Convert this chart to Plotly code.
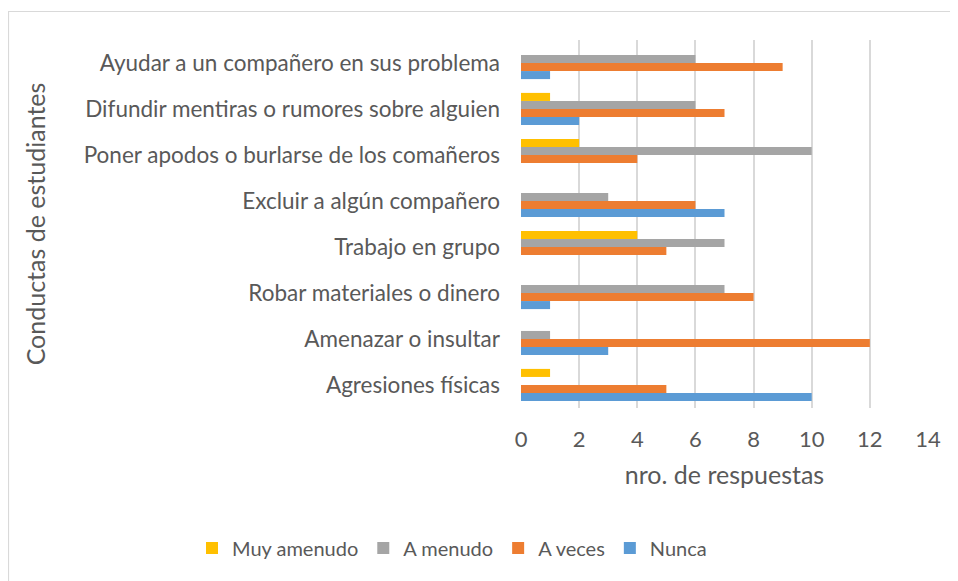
import plotly.graph_objects as go

categories = [
    "Agresiones físicas",
    "Amenazar o insultar",
    "Robar materiales o dinero",
    "Trabajo en grupo",
    "Excluir a algún compañero",
    "Poner apodos o burlarse de los comañeros",
    "Difundir mentiras o rumores sobre alguien",
    "Ayudar a un compañero en sus problema",
]
nunca = [10, 3, 1, 0, 7, 0, 2, 1]
a_veces = [5, 12, 8, 5, 6, 4, 7, 9]
a_menudo = [0, 1, 7, 7, 3, 10, 6, 6]
muy_amenudo = [1, 0, 0, 4, 0, 2, 1, 0]
x_ticks = [0, 2, 4, 6, 8, 10, 12, 14]

series = [
    ("Nunca", nunca, "#5B9BD5"),
    ("A veces", a_veces, "#ED7D31"),
    ("A menudo", a_menudo, "#A5A5A5"),
    ("Muy amenudo", muy_amenudo, "#FFC000"),
]

fig = go.Figure()
for name, vals, color in series:
    fig.add_trace(go.Bar(y=categories, x=vals, name=name, orientation="h",
                         marker=dict(color=color, line=dict(width=0))))

# page is offset by the 8px body margin
OFF = 8
W, H = 958 - OFF, 581 - OFF
L, T = 521 - OFF, 40 - OFF
PR, PB = 928 - OFF, 408 - OFF
R, B = W - PR, H - PB
pw, ph = PR - L, PB - T


def px(x):
    return (x - OFF - L) / pw


def py(y):
    return (PB - (y - OFF)) / ph


font = "Lato, Calibri, Carlito, sans-serif"
fig.update_layout(
    width=W, height=H,
    margin=dict(l=L, r=R, t=T, b=B),
    paper_bgcolor="white", plot_bgcolor="white",
    barmode="group", bargap=0.3, bargroupgap=0,
    font=dict(family=font, size=20, color="#595959"),
    showlegend=True,
    legend=dict(orientation="h", traceorder="reversed",
                x=px(192), xanchor="left",
                y=py(548), yanchor="middle",
                font=dict(size=20, color="#595959"), itemwidth=30),
    xaxis=dict(range=[0, 14], tickvals=x_ticks, showgrid=True, gridcolor="#D9D9D9",
               gridwidth=1.5, zeroline=False, showline=False, ticks="",
               ticklabelstandoff=16,
               title=dict(text="nro. de respuestas", standoff=15,
                          font=dict(size=25, color="#595959")),
               tickfont=dict(size=22, color="#595959")),
    yaxis=dict(categoryorder="array", categoryarray=categories, showgrid=False,
               zeroline=False, showline=False, ticks="", ticklabelstandoff=20,
               tickfont=dict(size=22.5, color="#595959"),
               title=dict(text="Conductas de estudiantes", standoff=30,
                          font=dict(size=25, color="#595959"))),
    shapes=[dict(type="rect", xref="paper", yref="paper",
                 x0=px(8.5), x1=px(1000), y0=py(700), y1=py(11.5),
                 line=dict(color="#D9D9D9", width=1.2), fillcolor="rgba(0,0,0,0)",
                 layer="below")],
)

fig.write_html("out.html")
